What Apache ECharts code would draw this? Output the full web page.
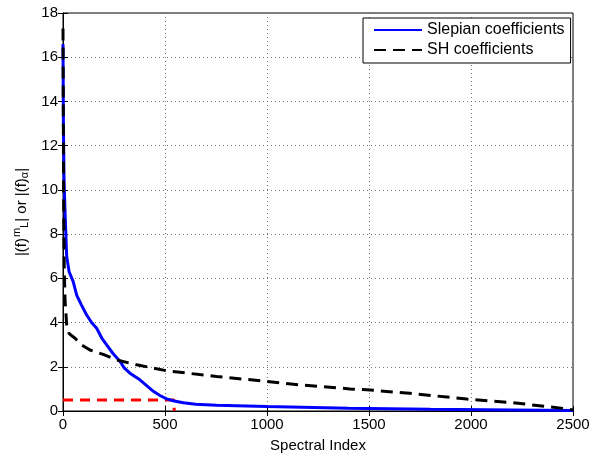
<!DOCTYPE html>
<html><head><meta charset="utf-8">
<script src="https://cdn.jsdelivr.net/npm/echarts@6/dist/echarts.min.js"></script>
<style>html,body{margin:0;padding:0;background:#fff}#c{width:593px;height:458px}</style>
</head><body><div id="c"></div>
<script>
const xTicks = [0, 500, 1000, 1500, 2000, 2500];
const yTicks = [0, 2, 4, 6, 8, 10, 12, 14, 16, 18];
const slepianIdx = [0,2,5,10,18,30,50,67,90,116,140,165,190,214,245,279,300,328,377,410,443,475,508,545,590,650,753,1000,1400,1800,2200,2500];
const slepianVal = [16.6,13,10.5,9.0,7.0,6.3,5.85,5.24,4.8,4.34,4.0,3.74,3.3,2.99,2.6,2.25,1.95,1.71,1.41,1.15,0.89,0.7,0.55,0.45,0.37,0.31,0.26,0.2,0.13,0.08,0.05,0.02];
const shIdx = [0,3,6,10,18,30,59,90,132,200,263,361,508,753,998,1162,1407,1489,1700,1979,2200,2469,2500];
const shVal = [17.3,10,6.5,5,3.9,3.5,3.29,3.0,2.76,2.55,2.31,2.09,1.82,1.56,1.34,1.18,1.0,0.96,0.8,0.54,0.38,0.1,0.05];
const markIdx = [0, 545, 545];
const markVal = [0.5, 0.5, 0];
const seriesNames = ['Slepian coefficients', 'SH coefficients'];

const zip = (a, b) => a.map((v, i) => [v, b[i]]);
const font = 'Liberation Sans, Arial, sans-serif';
const chart = echarts.init(document.getElementById('c'));
const axisCommon = {
  type: 'value',
  axisLine: { show: true, lineStyle: { color: '#000', width: 1 } },
  axisTick: { show: true, inside: true, length: 5, lineStyle: { color: '#000' } },
  axisLabel: { color: '#000', fontFamily: font, fontSize: 15 },
  splitLine: { show: false }
};
chart.setOption({
  animation: false,
  grid: { left: 63, right: 20, top: 13, bottom: 45, show: true, borderColor: '#000', borderWidth: 1 },
  xAxis: [
    Object.assign({}, axisCommon, {
      min: 0, max: 2500, interval: 500, position: 'bottom',
      axisLabel: { color: '#000', fontFamily: font, fontSize: 15, margin: 6, formatter: v => xTicks.includes(v) ? String(v) : '' },
      splitLine: { show: true, lineStyle: { color: '#777', type: [1, 3], width: 1 } },
      name: 'Spectral Index', nameLocation: 'middle', nameGap: 27,
      nameTextStyle: { color: '#000', fontFamily: font, fontSize: 15 }
    }),
    Object.assign({}, axisCommon, { min: 0, max: 2500, interval: 500, position: 'top', axisLabel: { show: false } })
  ],
  yAxis: [
    Object.assign({}, axisCommon, {
      min: 0, max: 18, interval: 2, position: 'left',
      axisLabel: { color: '#000', fontFamily: font, fontSize: 15, margin: 5, formatter: v => yTicks.includes(v) ? String(v) : '' },
      splitLine: { show: true, lineStyle: { color: '#777', type: [1, 3], width: 1 } },
      name: '|(f){sup|m}{sub|L}| or |(f){sub|α}|', nameLocation: 'middle', nameGap: 31, nameRotate: 90,
      nameTextStyle: {
        color: '#000', fontFamily: font, fontSize: 15,
        rich: {
          sup: { fontSize: 11, fontFamily: font, color: '#000', padding: [0, 0, 9, 1] },
          sub: { fontSize: 11, fontFamily: font, color: '#000', padding: [7, 0, 0, 0] }
        }
      }
    }),
    Object.assign({}, axisCommon, { min: 0, max: 18, interval: 2, position: 'right', axisLabel: { show: false } })
  ],
  legend: {
    show: true,
    data: seriesNames,
    left: 363, top: 18, orient: 'vertical',
    itemWidth: 48, itemHeight: 14, itemGap: 4,
    padding: [4, 6, 5, 10],
    borderColor: '#000', borderWidth: 1, backgroundColor: '#fff', borderRadius: 0,
    itemStyle: { opacity: 0 },
    textStyle: { color: '#000', fontFamily: font, fontSize: 16 }
  },
  series: [
    { name: seriesNames[0], type: 'line', data: zip(slepianIdx, slepianVal), showSymbol: false, symbol: 'none',
      lineStyle: { color: '#0000ff', width: 3 }, itemStyle: { color: '#0000ff' }, z: 3 },
    { name: seriesNames[1], type: 'line', data: zip(shIdx, shVal), showSymbol: false, symbol: 'none',
      lineStyle: { color: '#000', width: 3, type: [12, 7] }, itemStyle: { color: '#000' }, z: 4 },
    { name: 'mark', type: 'line', data: zip(markIdx, markVal), showSymbol: false, symbol: 'none',
      lineStyle: { color: '#ff0000', width: 3, type: [10, 7] }, itemStyle: { color: '#ff0000' }, z: 2 }
  ]
});
</script></body></html>
